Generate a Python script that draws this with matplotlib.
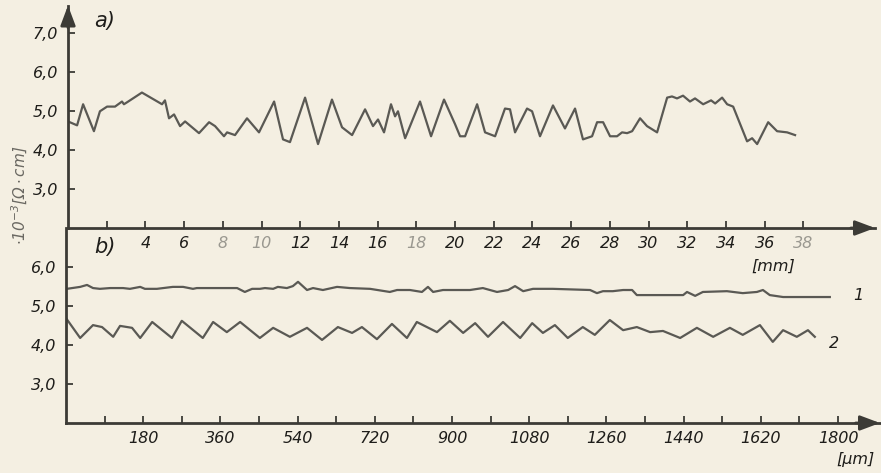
import matplotlib
matplotlib.use("Agg")
from matplotlib import pyplot as plt

# panel a) : resistivity along the sample, x in mm
a_x = [0.0, 0.47, 0.78, 1.34, 1.65, 2.02, 2.43, 2.79, 2.89, 3.05, 3.82, 4.86, 5.01, 5.22,
       5.48, 5.79, 6.05, 6.77, 7.29, 7.60, 8.06, 8.22, 8.63, 9.25, 9.87, 10.65, 11.11, 11.47,
       12.25, 12.92, 13.64, 14.16, 14.68, 15.35, 15.76, 16.02, 16.33, 16.69, 16.90, 17.05,
       17.42, 18.19, 18.76, 19.43, 20.0, 20.26, 20.52, 21.14, 21.55, 22.07, 22.58, 22.84,
       23.10, 23.72, 23.98, 24.39, 25.06, 25.68, 26.20, 26.61, 27.08, 27.34, 27.65, 28.01,
       28.37, 28.63, 28.89, 29.15, 29.56, 29.92, 30.44, 30.96, 31.21, 31.47, 31.78, 32.14,
       32.40, 32.82, 33.23, 33.44, 33.80, 34.06, 34.37, 35.09, 35.35, 35.61, 36.18, 36.64,
       37.16, 37.57]
a_y = [4.73, 4.63, 5.17, 4.48, 4.99, 5.11, 5.11, 5.24, 5.17, 5.22, 5.47, 5.17, 5.27, 4.81,
       4.91, 4.61, 4.73, 4.43, 4.71, 4.61, 4.35, 4.45, 4.38, 4.81, 4.45, 5.24, 4.27, 4.20,
       5.34, 4.15, 5.29, 4.58, 4.38, 5.04, 4.61, 4.78, 4.45, 5.17, 4.86, 4.99,
       4.30, 5.24, 4.35, 5.29, 4.66, 4.35, 4.35, 5.17, 4.45, 4.35, 5.06, 5.04,
       4.45, 5.06, 4.99, 4.35, 5.14, 4.55, 5.06, 4.27, 4.35, 4.71, 4.71, 4.35,
       4.35, 4.45, 4.43, 4.48, 4.81, 4.61, 4.45, 5.34, 5.37, 5.32, 5.39, 5.24,
       5.32, 5.17, 5.27, 5.19, 5.34, 5.17, 5.11, 4.22, 4.30, 4.15, 4.71, 4.48,
       4.45, 4.38]

# panel b) : curves 1 and 2, x in um
b1_x = [2, 33, 49, 63, 79, 103, 133, 149, 173, 184, 212, 249, 273, 296, 305, 399, 417, 434,
        452, 464, 483, 494, 515, 529, 541, 562, 576, 599, 632, 662, 709, 755, 772, 802, 830,
        844, 856, 879, 942, 972, 1005, 1031, 1047, 1066, 1089, 1135, 1222, 1238, 1252, 1275,
        1299, 1320, 1331, 1362, 1439, 1448, 1467, 1485, 1541, 1578, 1611, 1625, 1641, 1672,
        1781]
b1_y = [5.44, 5.49, 5.54, 5.46, 5.44, 5.46, 5.46, 5.44, 5.49, 5.44, 5.44, 5.49, 5.49, 5.44,
        5.46, 5.46, 5.36, 5.44, 5.44, 5.46, 5.44, 5.49, 5.46, 5.51, 5.62, 5.41, 5.46, 5.41,
        5.49, 5.46, 5.44, 5.36, 5.41, 5.41, 5.36, 5.49, 5.36, 5.41, 5.41, 5.46, 5.36, 5.41,
        5.51, 5.38, 5.44, 5.44, 5.41, 5.33, 5.38, 5.38, 5.41, 5.41, 5.28, 5.28, 5.28, 5.36,
        5.26, 5.36, 5.38, 5.33, 5.36, 5.41, 5.28, 5.23, 5.23]
b2_x = [0, 33, 63, 84, 110, 126, 154, 173, 201, 247, 270, 319, 343, 375, 406, 452, 483, 522,
        562, 597, 634, 667, 690, 725, 760, 795, 818, 865, 895, 926, 954, 984, 1019, 1059,
        1087, 1112, 1140, 1170, 1205, 1233, 1268, 1299, 1331, 1362, 1392, 1432, 1471, 1509,
        1548, 1578, 1618, 1648, 1672, 1704, 1730, 1746]
b2_y = [4.69, 4.18, 4.51, 4.46, 4.21, 4.49, 4.44, 4.18, 4.59, 4.18, 4.62, 4.18, 4.59, 4.33,
        4.59, 4.18, 4.44, 4.21, 4.44, 4.13, 4.46, 4.31, 4.46, 4.15, 4.54, 4.18, 4.59, 4.33,
        4.62, 4.31, 4.56, 4.21, 4.59, 4.18, 4.56, 4.31, 4.51, 4.18, 4.46, 4.26, 4.64, 4.38,
        4.46, 4.33, 4.36, 4.18, 4.44, 4.21, 4.44, 4.26, 4.51, 4.08, 4.38, 4.21, 4.38, 4.21]

a_ticks = list(range(2, 40, 2))
a_labels = [""] + [str(t) for t in range(4, 40, 2)]
b_ticks = list(range(90, 1801, 90))
b_labels = [str(t) if t % 180 == 0 else "" for t in b_ticks]
y_ticks_a = [3, 4, 5, 6, 7]
y_ticks_b = [3, 4, 5, 6]

bg = "#f4efe2"
ink = "#3c3b36"
line_c = "#5a5954"
faded = ["8", "10", "18", "38"]

plt.rcParams["font.style"] = "italic"
W, H = 881, 473
fig = plt.figure(figsize=(W / 100, H / 100), dpi=100, facecolor=bg)


def box(l, r, t, b):
    return [l / W, 1 - b / H, (r - l) / W, (b - t) / H]


def arrow(ax, tip, tail):
    ax.annotate("", xy=tip, xytext=tail, xycoords="axes fraction",
                textcoords="axes fraction", annotation_clip=False,
                arrowprops=dict(arrowstyle="-|>,head_length=1.2,head_width=0.45",
                                color=ink, lw=2.0, shrinkA=0, shrinkB=0))


def style(ax):
    ax.set_facecolor("none")
    for s in ["top", "right"]:
        ax.spines[s].set_visible(False)
    for s in ["left", "bottom"]:
        ax.spines[s].set_color(ink)
        ax.spines[s].set_linewidth(2.0)
    ax.tick_params(direction="in", length=5, width=1.3, color=ink, labelsize=11.5,
                   labelcolor="#1e1d1a")
    ax.tick_params(axis="x", pad=6)
    ax.tick_params(axis="y", pad=7)
    arrow(ax, (1, 0), (0.97, 0))


# top panel
ax1 = fig.add_axes(box(68, 875, 5.5, 228))
style(ax1)
ax1.plot(a_x, a_y, color=line_c, lw=1.6)
ax1.set_xlim(0, 41.7)
ax1.set_ylim(2.0, 7.7)
ax1.set_xticks(a_ticks)
ax1.set_xticklabels(a_labels)
for lab in ax1.get_xticklabels():
    if lab.get_text() in faded:
        lab.set_color("#9a9890")
ax1.set_yticks(y_ticks_a)
ax1.set_yticklabels([f"{t},0" for t in y_ticks_a])
arrow(ax1, (0, 1), (0, 0.9))
ax1.text(0.032, 0.93, "a)", transform=ax1.transAxes, fontsize=15, color="#1e1d1a",
         va="center", ha="left")
ax1.text(773 / W, 1 - 266 / H, "[mm]", transform=fig.transFigure, fontsize=11.5,
         ha="center", va="center", color="#1e1d1a")

# bottom panel
ax2 = fig.add_axes(box(66, 880, 228, 423))
style(ax2)
ax2.plot(b1_x, b1_y, color=line_c, lw=1.6)
ax2.plot(b2_x, b2_y, color=line_c, lw=1.6)
ax2.set_xlim(0, 1898)
ax2.set_ylim(2.0, 7.0)
ax2.set_xticks(b_ticks)
ax2.set_xticklabels(b_labels)
ax2.set_yticks(y_ticks_b)
ax2.set_yticklabels([f"{t},0" for t in y_ticks_b])
ax2.text(0.035, 0.90, "b)", transform=ax2.transAxes, fontsize=15, color="#1e1d1a",
         va="center", ha="left")
ax2.text(858 / W, 1 - 296 / H, "1", transform=fig.transFigure, fontsize=11.5,
         ha="center", va="center", color="#1e1d1a")
ax2.text(834 / W, 1 - 343 / H, "2", transform=fig.transFigure, fontsize=11.5,
         ha="center", va="center", color="#1e1d1a")
ax2.text(855 / W, 1 - 459 / H, "[μm]", transform=fig.transFigure, fontsize=11.5,
         ha="center", va="center", color="#1e1d1a")

fig.text(20 / W, 1 - 195 / H, r"$\cdot10^{-3}[\Omega\cdot cm]$", rotation=90,
         fontsize=11, ha="center", va="center", color="#6a6862")

fig.savefig("out.png", dpi=100, facecolor=bg)
